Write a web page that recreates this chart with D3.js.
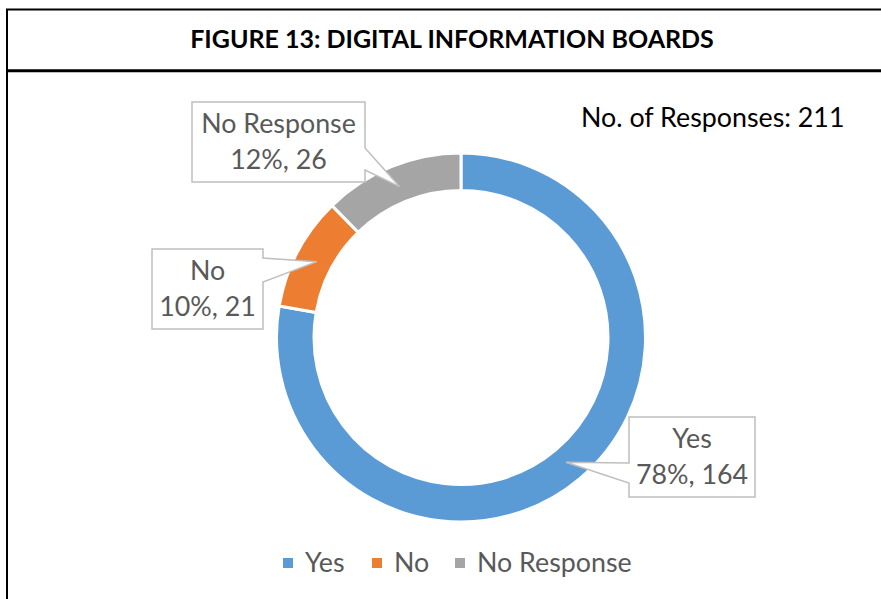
<!DOCTYPE html>
<html><head><meta charset="utf-8">
<script src="https://cdn.jsdelivr.net/npm/d3@7"></script>
<style>
html,body{margin:0;padding:0;background:#fff;}
svg{display:block;}
text{font-family:Lato,"Open Sans",sans-serif;}
</style></head>
<body>
<script>
const categories = ["Yes", "No", "No Response"];
const values = [164, 21, 26];
const colors = ["#5B9BD5", "#ED7D31", "#A5A5A5"];
const titleText = "FIGURE 13: DIGITAL INFORMATION BOARDS";
const totalLabel = "No. of Responses: 211";

const W = 881, H = 599;
const svg = d3.select("body").append("svg").attr("width", W).attr("height", H);

// frame
svg.append("rect").attr("x", 7).attr("y", 9.5).attr("width", 900).attr("height", 700)
  .attr("fill", "#fff").attr("stroke", "#000").attr("stroke-width", 2);
svg.append("line").attr("x1", 7).attr("x2", 900).attr("y1", 70.7).attr("y2", 70.7)
  .attr("stroke", "#000").attr("stroke-width", 3);
svg.append("text").attr("x", 452).attr("y", 48).attr("text-anchor", "middle")
  .attr("font-weight", "bold").attr("font-size", 25).attr("fill", "#000")
  .text(titleText);

svg.append("text").attr("x", 581).attr("y", 127).attr("font-size", 26.8).attr("fill", "#000")
  .text(totalLabel);

// donut
const cx = 461, cy = 337.5, rOuter = 184.5, rInner = 147;
const total = d3.sum(values);
const pie = d3.pie().sort(null).value(d => d.value);
const data = categories.map((c, i) => ({ cat: c, value: values[i], color: colors[i] }));
const arcs = pie(data);
const arc = d3.arc().innerRadius(rInner).outerRadius(rOuter);
const g = svg.append("g").attr("transform", `translate(${cx},${cy})`);
g.selectAll("path").data(arcs).join("path")
  .attr("d", arc).attr("fill", d => d.data.color)
  .attr("stroke", "#fff").attr("stroke-width", 3);

// callouts
const tipArc = d3.arc().innerRadius(163).outerRadius(163);
const boxes = {
  "Yes":         { x: 629, y: 417, w: 126, h: 80, side: "left",  b0: 46, b1: 66 },
  "No":          { x: 152, y: 249, w: 111, h: 80, side: "right", b0: 9,  b1: 33 },
  "No Response": { x: 192, y: 102, w: 173, h: 80, side: "right", b0: 46, b1: 68 }
};
arcs.forEach(a => {
  const b = boxes[a.data.cat];
  const [tx, ty] = tipArc.centroid(a);
  const tipX = cx + tx, tipY = cy + ty;
  let p;
  if (b.side === "right") {
    const r = b.x + b.w;
    p = [[b.x, b.y], [r, b.y], [r, b.y + b.b0], [tipX, tipY], [r, b.y + b.b1], [r, b.y + b.h], [b.x, b.y + b.h]];
  } else {
    p = [[b.x, b.y], [b.x + b.w, b.y], [b.x + b.w, b.y + b.h], [b.x, b.y + b.h], [b.x, b.y + b.b1], [tipX, tipY], [b.x, b.y + b.b0]];
  }
  svg.append("path").attr("d", "M" + p.map(q => q.join(",")).join("L") + "Z")
    .attr("fill", "#fff").attr("stroke", "#BFBFBF").attr("stroke-width", 1.5);
  const pct = Math.round(a.data.value / total * 100);
  const t = svg.append("text").attr("text-anchor", "middle").attr("font-size", 26.8).attr("fill", "#595959");
  t.append("tspan").attr("x", b.x + b.w / 2).attr("y", b.y + 31).text(a.data.cat);
  t.append("tspan").attr("x", b.x + b.w / 2).attr("y", b.y + 67).text(pct + "%, " + a.data.value);
});

// legend
const legendX = [283, 372, 455];
const lg = svg.append("g");
data.forEach((d, i) => {
  lg.append("rect").attr("x", legendX[i]).attr("y", 558).attr("width", 10).attr("height", 10).attr("fill", d.color);
  lg.append("text").attr("x", legendX[i] + 22).attr("y", 572).attr("font-size", 26.8).attr("fill", "#595959").text(d.cat);
});
</script>
</body></html>
